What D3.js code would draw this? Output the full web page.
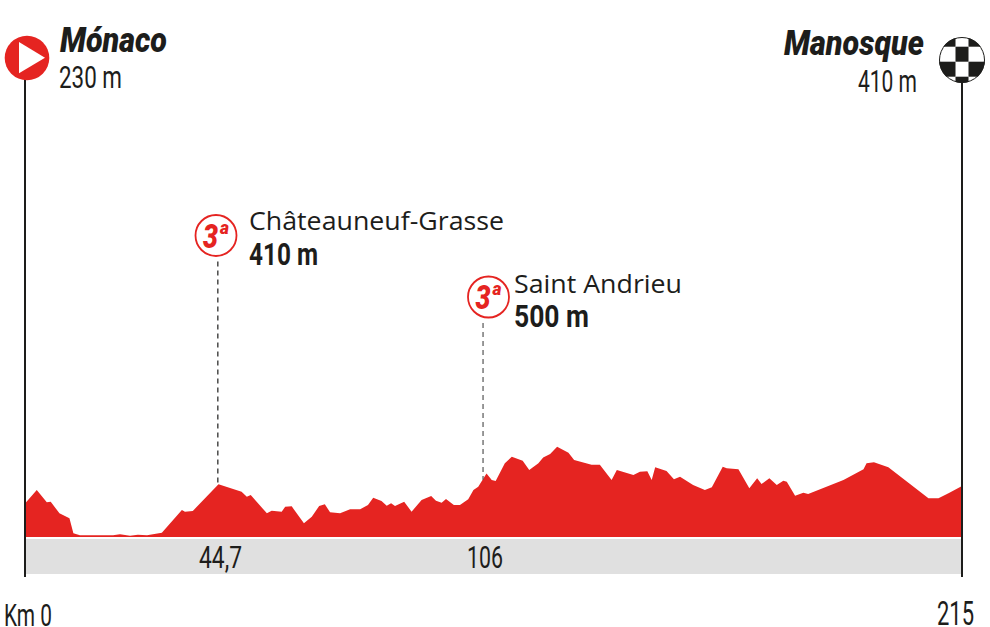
<!DOCTYPE html>
<html>
<head>
<meta charset="utf-8">
<script src="https://cdn.jsdelivr.net/npm/d3@7"></script>
<style>
  body { margin: 0; background: #fff; }
  text { fill: #1d1d1b; }
</style>
</head>
<body>
<svg id="drawing_region"></svg>
<script>
const km = [0, 2.7, 5.0, 5.9, 7.9, 10.2, 11.1, 12.6, 20.2, 21.8, 24.1, 25.9, 28.0, 31.4, 36.0, 36.7, 38.5, 44.4,
  49.7, 50.9, 51.8, 55.5, 56.6, 58.9, 59.7, 61.2, 64.0, 65.8, 67.5, 68.8, 70.0, 72.3, 74.6, 76.9, 78.7, 79.9,
  81.8, 83.0, 84.0, 84.9, 87.0, 88.7, 91.0, 93.2, 94.3, 95.6, 96.6, 98.4, 99.8, 101.7, 102.9, 104.0, 105.9,
  107.1, 108.0, 110.1, 111.7, 114.2, 115.7, 117.8, 118.9, 120.5, 122.1, 124.7, 126.0, 130.0, 131.9, 134.6,
  135.8, 139.6, 141.1, 142.8, 143.8, 144.6, 147.2, 148.9, 150.3, 153.3, 156.0, 157.6, 160.1, 161.0, 163.7,
  166.2, 168.0, 169.0, 170.8, 172.5, 174.0, 174.8, 176.7, 178.6, 179.7, 187.8, 192.4, 193.1, 194.8, 198.1,
  207.3, 209.6, 211.9, 215];
const elevation = [270, 379, 280, 285, 191, 151, 30, 14, 14, 22, 10, 19, 14, 35, 218, 204, 210, 425,
  365, 325, 339, 191, 212, 204, 244, 247, 110, 164, 250, 264, 199, 191, 223, 223, 258, 317,
  290, 252, 272, 250, 285, 204, 298, 330, 293, 276, 306, 258, 258, 304, 379, 405, 513,
  459, 451, 594, 647, 615, 540, 594, 642, 669, 728, 679, 621, 583, 583, 459,
  540, 500, 526, 530, 459, 562, 532, 465, 486, 419, 379, 401, 567, 554, 546,
  393, 473, 427, 473, 419, 454, 446, 333, 357, 347, 459, 546, 594, 602, 562,
  312, 312, 352, 411];

const passNames = ['Châteauneuf-Grasse', 'Saint Andrieu'];
const passHeights = ['410 m', '500 m'];
const passKmLabels = ['44,7', '106'];
const passKm = [44.25, 105.1];
const passTop = [420, 462];
const passCategory = ['3', '3'];

const startName = 'Mónaco', startHeight = '230 m';
const endName = 'Manosque', endHeight = '410 m';

const red = '#e52421', grey = '#e0e0e0', dark = '#1d1d1b';
const width = 990, height = 627;

const svg = d3.select('#drawing_region').attr('width', width).attr('height', height);
const x = d3.scaleLinear().domain([0, 215]).range([25, 962]);
const y = d3.scaleLinear().domain([0, 500]).range([537, 475]);

// grey distance band
svg.append('rect').attr('x', x(0)).attr('y', 539).attr('width', x(215) - x(0)).attr('height', 35).attr('fill', grey);

// profile
const area = d3.area().x(d => x(d[0])).y0(y(0)).y1(d => y(d[1]));
svg.append('path').datum(d3.zip(km, elevation)).attr('d', area).attr('fill', red);

// start and finish poles
svg.selectAll('.pole').data([0, 215]).join('line')
  .attr('class', 'pole')
  .attr('x1', d => x(d)).attr('x2', d => x(d))
  .attr('y1', 70).attr('y2', 577)
  .attr('stroke', dark).attr('stroke-width', 2);

// narrow text helper, the original font is condensed
function label(t, px, py, size, w, opt = {}) {
  const el = svg.append('text')
    .attr('x', px).attr('y', py)
    .attr('font-family', opt.family || 'Roboto')
    .attr('font-size', size)
    .attr('font-weight', opt.weight || 400)
    .attr('font-style', opt.style || 'normal')
    .text(t);
  if (w) el.attr('textLength', w).attr('lengthAdjust', 'spacingAndGlyphs');
  if (opt.fill) el.style('fill', opt.fill);
  return el;
}

// start icon
svg.append('circle').attr('cx', 27).attr('cy', 58).attr('r', 22.3).attr('fill', red);
svg.append('path').attr('d', 'M19,42 L45,57.7 L19,73.3 Z').attr('fill', '#fff');
label(startName, 60, 52, 35, 107, { weight: 900, style: 'italic' });
label(startHeight, 59, 88, 32, 63);

// finish icon
const defs = svg.append('defs');
defs.append('clipPath').attr('id', 'flag').append('circle').attr('cx', 962).attr('cy', 60).attr('r', 23);
const flag = svg.append('g').attr('clip-path', 'url(#flag)');
flag.append('rect').attr('x', 938).attr('y', 36).attr('width', 48).attr('height', 48).attr('fill', '#fff');
flag.append('rect').attr('x', 938).attr('y', 30).attr('width', 17.5).attr('height', 16.7).attr('fill', dark);
flag.append('rect').attr('x', 968.5).attr('y', 30).attr('width', 17.5).attr('height', 16.7).attr('fill', dark);
flag.append('rect').attr('x', 955.5).attr('y', 46.7).attr('width', 13).attr('height', 15).attr('fill', dark);
flag.append('rect').attr('x', 938).attr('y', 61.7).attr('width', 17.5).attr('height', 15).attr('fill', dark);
flag.append('rect').attr('x', 968.5).attr('y', 61.7).attr('width', 17.5).attr('height', 15).attr('fill', dark);
flag.append('rect').attr('x', 955.5).attr('y', 76.7).attr('width', 13).attr('height', 8).attr('fill', dark);
svg.append('circle').attr('cx', 962).attr('cy', 60).attr('r', 22.5).attr('fill', 'none').attr('stroke', dark).attr('stroke-width', 1);
label(endName, 784, 55, 35, 140, { weight: 900, style: 'italic' });
label(endHeight, 858, 92, 32, 59);

// passes
const circleX = [216, 488.5], circleY = [235.5, 297], nameX = [249, 514], nameY = [230, 293], nameW = [255, 168];
const heightY = [265, 327], heightW = [69, 75];
passNames.forEach((name, i) => {
  svg.append('line')
    .attr('x1', x(passKm[i])).attr('x2', x(passKm[i]))
    .attr('y1', circleY[i] + 26).attr('y2', y(passTop[i]))
    .attr('stroke', i ? '#555' : dark).attr('stroke-width', 1.2).attr('stroke-dasharray', '5 4');
  svg.append('circle').attr('cx', circleX[i]).attr('cy', circleY[i]).attr('r', 20.5)
    .attr('fill', '#fff').attr('stroke', red).attr('stroke-width', 1.8);
  label(passCategory[i], circleX[i] - 13, circleY[i] + 12, 33, 15, { weight: 900, style: 'italic', fill: red });
  label('a', circleX[i] + 4, circleY[i] - 2, 18, 9, { weight: 900, style: 'italic', fill: red });
  label(name, nameX[i], nameY[i], 25, nameW[i], { family: 'Open Sans' });
  label(passHeights[i], nameX[i], heightY[i], 31, heightW[i], { weight: 700 });
});

// km labels
label(passKmLabels[0], 199, 568, 32, 43);
label(passKmLabels[1], 467, 568, 32, 36);
label('Km 0', 4, 626, 32, 48);
label('215', 937, 625, 34, 37);
</script>
</body>
</html>
